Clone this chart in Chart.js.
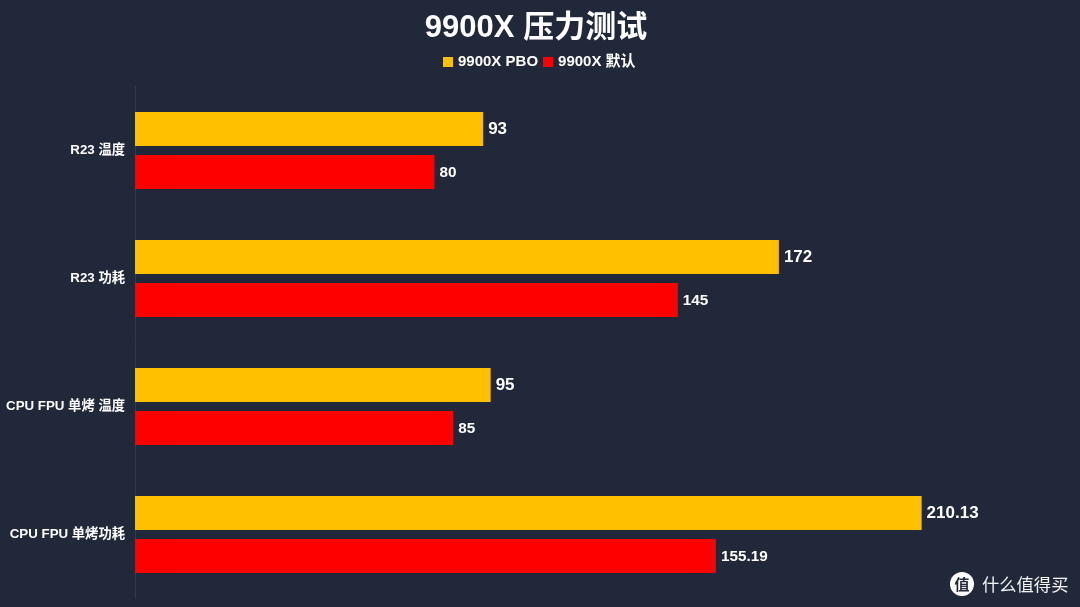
<!DOCTYPE html>
<html>
<head>
<meta charset="utf-8">
<script src="https://cdn.jsdelivr.net/npm/chart.js@4"></script>
<style>
  html, body { margin: 0; padding: 0; background: #212839; overflow: hidden; }
  #wrap { position: relative; width: 1080px; height: 607px; }
  #legend { position: absolute; left: 443px; top: 51px; height: 20px; color: #fff; white-space: nowrap; font: bold 15px "Liberation Sans", "Noto Sans CJK SC", sans-serif; line-height: 20px; }
  #legend span { display: inline-block; margin-right: 5px; }
  #legend i { display: inline-block; width: 10px; height: 10px; margin-right: 5px; vertical-align: -0.5px; }
  #mark { position: absolute; left: 950px; top: 572px; width: 130px; height: 24px; color: #f4f5f7; font: 17.3px "Noto Sans CJK SC"; line-height: 24px; white-space: nowrap; }
  #mark b { display: inline-block; width: 24px; height: 24px; margin-right: 8px; border-radius: 50%; background: #fff; color: #212839; font-size: 15px; text-align: center; vertical-align: top; }
</style>
</head>
<body>
<div id="wrap">
  <canvas id="chart" width="1080" height="607"></canvas>
  <div id="legend"></div>
  <div id="mark"><b>值</b>什么值得买</div>
</div>
<script>
var FONT = '"Liberation Sans", "Noto Sans CJK SC", sans-serif';

var categories = ["R23 温度", "R23 功耗", "CPU FPU 单烤 温度", "CPU FPU 单烤功耗"];
var pboValues = [93, 172, 95, 210.13];
var defaultValues = [80, 145, 85, 155.19];

// value labels at the end of each bar, yellow ones are a bit bigger
var barLabels = {
	id : "barLabels",
	afterDatasetsDraw : function(chart) {
		var ctx = chart.ctx;
		ctx.save();
		ctx.fillStyle = "#ffffff";
		ctx.textBaseline = "middle";
		ctx.textAlign = "left";
		chart.data.datasets.forEach(function(ds, i) {
			ctx.font = "bold " + (i == 0 ? 17 : 15.3) + "px " + FONT;
			chart.getDatasetMeta(i).data.forEach(function(bar, j) {
				ctx.fillText(ds.data[j], bar.x + 5, bar.y + 0.5);
			});
		});
		ctx.restore();
	}
};

var data = {
	labels : categories,
	datasets : [
		{
			label : "9900X PBO",
			data : pboValues,
			backgroundColor : "#ffc000",
			categoryPercentage : 0.672,
			barPercentage : 0.79
		},
		{
			label : "9900X 默认",
			data : defaultValues,
			backgroundColor : "#ff0000",
			categoryPercentage : 0.672,
			barPercentage : 0.79
		}
	]
};

var options = {
	indexAxis : "y",
	responsive : false,
	animation : false,
	layout : { autoPadding : false, padding : { top : 10, right : 8, bottom : 8.5, left : 0 } },
	plugins : {
		title : {
			display : true,
			text : "9900X 压力测试",
			color : "#ffffff",
			font : { family : FONT, size : 31, weight : "bold" },
			padding : { top : 0, bottom : 39.3 }
		},
		legend : { display : false },
		tooltip : { enabled : false }
	},
	scales : {
		x : {
			display : false,
			min : 0,
			max : 250.3
		},
		y : {
			afterFit : function(scale) {
				scale.width = 135;
				// tick label height otherwise eats into the bottom of the plot
				scale.paddingTop = 0;
				scale.paddingBottom = 0;
			},
			grid : { display : false, drawTicks : false },
			border : { color : "#2f3a4c" },
			ticks : {
				color : "#ffffff",
				padding : 10,
				font : { family : FONT, size : 13.3, weight : "bold" }
			}
		}
	}
};

var chart = new Chart(document.getElementById("chart"), {
	type : "bar",
	data : data,
	options : options,
	plugins : [barLabels]
});

// legend is plain html, the swatch/text gaps are tighter than the built in one
data.datasets.forEach(function(ds) {
	var item = document.createElement("span");
	var box = document.createElement("i");
	box.style.background = ds.backgroundColor;
	item.appendChild(box);
	item.appendChild(document.createTextNode(ds.label));
	document.getElementById("legend").appendChild(item);
});
</script>
</body>
</html>
